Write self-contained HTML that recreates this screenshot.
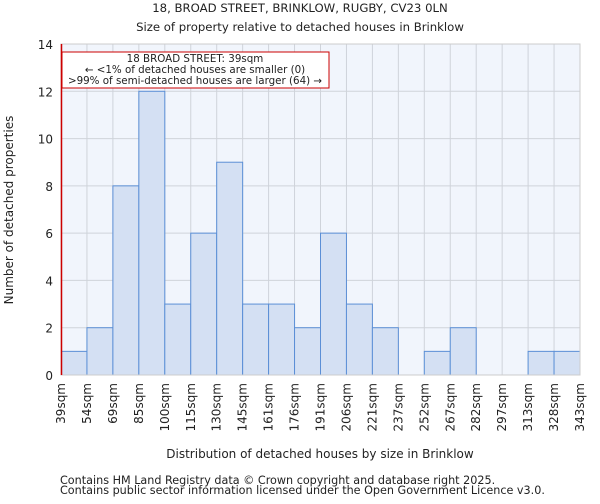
<!DOCTYPE html>
<html><head><meta charset="utf-8"><style>
body{margin:0;background:#fff;font-family:"DejaVu Sans","Liberation Sans",sans-serif;}
svg text{font-family:"DejaVu Sans","Liberation Sans",sans-serif;fill:#222;}
</style></head><body>
<svg id="chart" width="600" height="500" xmlns="http://www.w3.org/2000/svg">
<text x="300" y="12" text-anchor="middle" font-size="11.7">18, BROAD STREET, BRINKLOW, RUGBY, CV23 0LN</text>
<text x="300" y="31" text-anchor="middle" font-size="11.7">Size of property relative to detached houses in Brinklow</text>
<rect x="61" y="44" width="519" height="331" fill="#f1f5fc"/>
<g id="grid"></g><g id="bars"></g><g id="axes"></g>
<line x1="61.5" y1="44" x2="61.5" y2="375" stroke="#cc0000" stroke-width="1.5"/>
<g>
<rect x="62" y="52" width="267" height="36" fill="#fff" stroke="#cc0000" stroke-width="1"/>
<text x="195" y="62" text-anchor="middle" font-size="10.3">18 BROAD STREET: 39sqm</text>
<text x="195" y="73" text-anchor="middle" font-size="10.3">← &lt;1% of detached houses are smaller (0)</text>
<text x="195" y="84" text-anchor="middle" font-size="10.3">&gt;99% of semi-detached houses are larger (64) →</text>
</g>
<text x="320" y="458" text-anchor="middle" font-size="12">Distribution of detached houses by size in Brinklow</text>
<text transform="translate(13,210) rotate(-90)" text-anchor="middle" font-size="12">Number of detached properties</text>
<text x="60" y="484" font-size="11.2" fill="#444">Contains HM Land Registry data © Crown copyright and database right 2025.</text>
<text x="60" y="494" font-size="11.2" fill="#444">Contains public sector information licensed under the Open Government Licence v3.0.</text>
</svg>
<script>
const categories=["39sqm","54sqm","69sqm","85sqm","100sqm","115sqm","130sqm","145sqm","161sqm","176sqm","191sqm","206sqm","221sqm","237sqm","252sqm","267sqm","282sqm","297sqm","313sqm","328sqm","343sqm"];
const values=[1,2,8,12,3,6,9,3,3,2,6,3,2,0,1,2,0,0,1,1];
const yTicks=[0,2,4,6,8,10,12,14];
const NS="http://www.w3.org/2000/svg";
const X0=61,X1=580,Y0=375,Y1=44,YMAX=14;
const bw=(X1-X0)/values.length;
const xs=i=>X0+i*bw;
const ys=v=>Y0-(v/YMAX)*(Y0-Y1);
function mk(t,a,p){const e=document.createElementNS(NS,t);for(const k in a)e.setAttribute(k,a[k]);p.appendChild(e);return e;}
const grid=document.getElementById('grid'),bars=document.getElementById('bars'),axes=document.getElementById('axes');
yTicks.forEach(t=>{
 const l=mk('line',{x1:X0,x2:X1,y1:ys(t),y2:ys(t),stroke:'#cfd3da','stroke-width':1},grid);
 
 
 const tx=mk('text',{x:X0-8,y:ys(t)+5,'text-anchor':'end','font-size':12},axes);
 tx.textContent=t;
 
 
});
categories.forEach((c,i)=>{
 const l=mk('line',{x1:xs(i),x2:xs(i),y1:Y1,y2:Y0,stroke:'#cfd3da','stroke-width':1},grid);
 
 
 const tx=mk('text',{transform:`translate(${xs(i)+4},${Y0+8}) rotate(-90)`,'text-anchor':'end','font-size':12},axes);
 tx.textContent=c;
 
 
});
values.forEach((v,i)=>{
 if(v<=0)return;
 const r=mk('rect',{x:xs(i),y:ys(v),width:bw,height:Y0-ys(v),fill:'#d4e0f3',stroke:'#5b8fd6','stroke-width':1},bars);
 
 
});
const ax=mk('rect',{x:X0,y:Y1,width:X1-X0,height:Y0-Y1,fill:'none',stroke:'#cccccc','stroke-width':1},axes);


</script>
</body></html>
